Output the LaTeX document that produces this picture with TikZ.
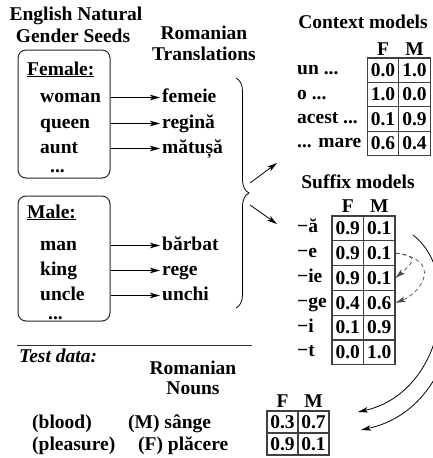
\documentclass[tikz,border=0pt]{standalone}
\usepackage{fontspec}
\setmainfont{Liberation Serif}
\usetikzlibrary{arrows.meta, positioning, calc, decorations.pathreplacing}
\newcommand{\dts}{...}

\begin{document}
\begin{tikzpicture}[x=1pt, y=-1pt,
    every node/.style={inner sep=0pt, font=\fontsize{19.5}{22}\selectfont\bfseries},
    word/.style={anchor=base west, text height=13pt, text depth=4pt},
    lab/.style={anchor=west, text height=13pt, text depth=4pt},
    head/.style={anchor=base},
    cell/.style={draw=black!75, line width=1.1pt, minimum width=31.5pt, minimum height=24.6pt},
    gbox/.style={draw=black!85, rounded corners=8pt, line width=1pt, minimum width=92pt},
    arr/.style={-{Stealth[length=10pt, width=5.5pt, inset=2.5pt]}, line width=0.8pt}]
    \useasboundingbox (0,0) rectangle (433,458);
    \clip (0,0) rectangle (433,458);

    % seeds and translations
    \node[head] (seeds1) at (76,20) {English Natural};
    \node[head] (seeds2) at (73,42) {Gender Seeds};
    \node[head] (transl1) at (204,39) {Romanian};
    \node[head] (transl2) at (204,60) {Translations};
    \node[gbox, minimum height=128pt] (female) at (64,114) {};
    \node[gbox, minimum height=125pt] (male) at (64,258.5) {};
    \node[word] (fem) at (27,75) {\underline{Female:}};
    \node[word] (woman) at (40,102) {woman};
    \node[word] (queen) at (40,128) {queen};
    \node[word] (aunt) at (40,153) {aunt};
    \node[anchor=base west] (fdots) at (50,172) {\dts};
    \node[word] (mal) at (27,218) {\underline{Male:}};
    \node[word] (man) at (40,250) {man};
    \node[word] (king) at (40,275) {king};
    \node[word] (uncle) at (40,300) {uncle};
    \node[anchor=base west] (mdots) at (48,319) {\dts};
    \node[word] (femeie) at (162,102) {femeie};
    \node[word] (regina) at (162,128) {regină};
    \node[word] (matusa) at (162,153) {mătușă};
    \node[word] (barbat) at (162,250) {bărbat};
    \node[word] (rege) at (162,275) {rege};
    \node[word] (unchi) at (162,300) {unchi};
    \foreach \a/\b in {woman/femeie, queen/regina, aunt/matusa}
        \draw[arr, shorten >=2pt] (female.east |- \a) -- (\b.west);
    \foreach \a/\b in {man/barbat, king/rege, uncle/unchi}
        \draw[arr, shorten >=2pt] (male.east |- \a) -- (\b.west);

    % brace
    \coordinate (brtop) at (236,78);
    \coordinate (brbot) at (236,308);
    \coordinate (brtip) at (250,194);
    \coordinate (ctxin) at (277,163);
    \coordinate (sufin) at (277,224);
    \draw[decorate, decoration={brace, amplitude=13pt}, line width=0.8pt] (brtop) -- (brbot);
    \draw[arr] ($(brtip)+(0,-11)$) -- (ctxin);
    \draw[arr] ($(brtip)+(0,11)$) -- (sufin);

    % context models
    \node[head] (ctx) at (363,28) {Context models};
    \foreach \lab/\f/\m [count=\i] in {un \dts/0.0/1.0, o \dts/1.0/0.0, acest \dts/0.1/0.9, \dts{} mare/0.6/0.4} {
        \node[cell, minimum height=24.4pt] (c-\i-1) at (383, {70.2+24.4*(\i-1)}) {\f};
        \node[cell, minimum height=24.4pt] (c-\i-2) at (414.5, {70.2+24.4*(\i-1)}) {\m};
        \node[lab] (cl-\i) at (297, {70.2+24.4*(\i-1)}) {\lab};
    }
    \node[anchor=base] (cf) at (c-1-1.center |- 0,55) {F};
    \node[anchor=base] (cm) at (c-1-2.center |- 0,55) {M};

    % suffix models
    \node[head] (suf) at (358,188) {Suffix models};
    \foreach \lab/\f/\m [count=\i] in {−ă/0.9/0.1, −e/0.9/0.1, −ie/0.9/0.1, −ge/0.4/0.6, −i/0.1/0.9, −t/0.0/1.0} {
        \node[cell, minimum height=24.8pt] (s-\i-1) at (347.75, {228.4+24.8*(\i-1)}) {\f};
        \node[cell, minimum height=24.8pt] (s-\i-2) at (379.25, {228.4+24.8*(\i-1)}) {\m};
        \node[lab] (sl-\i) at (297, {228.4+24.8*(\i-1)}) {\lab};
    }
    \node[anchor=base] (sf) at (s-1-1.center |- 0,212) {F};
    \node[anchor=base] (sm) at (s-1-2.center |- 0,212) {M};
    \draw[arr, dashed, dash pattern=on 4pt off 3pt, line width=0.7pt, black!70]
        (s-2-2.east) .. controls +(26,2) and +(16,-14) .. (s-3-2.east);
    \draw[arr, dashed, dash pattern=on 4pt off 3pt, line width=0.7pt, black!70]
        (s-2-2.east) .. controls +(48,6) and +(26,-10) .. (s-4-2.east);

    % test data
    \draw[line width=1pt, black!80] (17,345) coordinate (rulel) -- (252,345) coordinate (ruler);
    \node[anchor=base west, font=\fontsize{19.5}{22}\selectfont\bfseries\itshape] (test) at (19,362) {Test data:};
    \node[head] (nouns1) at (193,374) {Romanian};
    \node[head] (nouns2) at (193,394) {Nouns};
    \node[word] (blood) at (32,428) {(blood)};
    \node[word] (sange) at (128,428) {(M) sânge};
    \node[word] (pleas) at (32,450) {(pleasure)};
    \node[word] (placere) at (138,450) {(F) plăcere};
    \foreach \f/\m [count=\i] in {0.3/0.7, 0.9/0.1} {
        \node[cell, minimum width=31pt, minimum height=22pt] (t-\i-1) at (282.5, {422+22*(\i-1)}) {\f};
        \node[cell, minimum width=31pt, minimum height=22pt] (t-\i-2) at (313.5, {422+22*(\i-1)}) {\m};
    }
    \node[anchor=base] (tf) at (t-1-1.center |- 0,407) {F};
    \node[anchor=base] (tm) at (t-1-2.center |- 0,407) {M};

    % suffix models to test nouns
    \coordinate (outa) at (413,235);
    \coordinate (outb) at (445,240);
    \coordinate (ina) at (358,412);
    \coordinate (inb) at (361,430);
    \draw[arr] (outa) .. controls (462,272) and (446,392) .. (ina);
    \draw[arr] (outb) .. controls (470,300) and (452,410) .. (inb);
\end{tikzpicture}
\end{document}
